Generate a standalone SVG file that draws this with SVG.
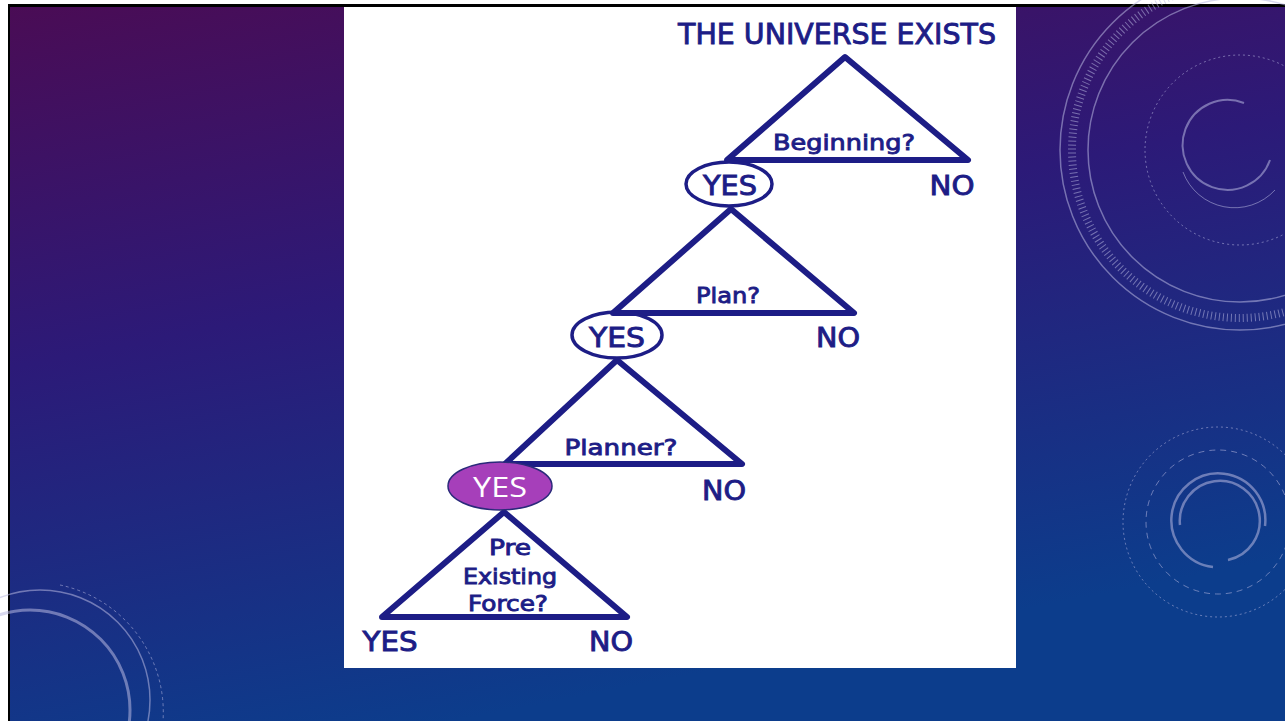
<svg xmlns="http://www.w3.org/2000/svg" width="1285" height="721" viewBox="0 0 1285 721">
<defs>
<linearGradient id="bg" x1="0" y1="0" x2="0.35" y2="1">
<stop offset="0" stop-color="#4a0c55"/>
<stop offset="0.45" stop-color="#2c1a78"/>
<stop offset="1" stop-color="#0c3d8c"/>
</linearGradient>
<style>
.tri{fill:none;stroke:#1d1d86;stroke-width:6;stroke-linejoin:round;stroke-linecap:round}
.lbl{font-family:"DejaVu Sans","Noto Sans",sans-serif;fill:#1d1d86;stroke:#1d1d86;stroke-width:0.9;font-weight:normal}
.oval{fill:none;stroke:#1d1d86;stroke-width:3.5}
.deco{fill:none;stroke:#b8b8e0;stroke-opacity:0.55}
</style>
</defs>
<rect x="0" y="0" width="1285" height="721" fill="#ffffff"/>
<rect x="8" y="4" width="1277" height="717" fill="#000000"/>
<rect x="10" y="7" width="1275" height="714" fill="url(#bg)"/>
<g id="decor">
<circle class="deco" cx="1240" cy="150" r="180" stroke-width="1.5"/>
<circle class="deco" cx="1240" cy="150" r="152" stroke-width="1.5"/>
<circle class="deco" cx="1240" cy="150" r="168" stroke-width="8" stroke-dasharray="1 3" stroke-opacity="0.3"/>
<circle class="deco" cx="1240" cy="150" r="95" stroke-width="1" stroke-dasharray="2 3"/>
<path class="deco" d="M1244 103 A45 45 0 1 0 1270 160" stroke-width="2"/>
<path class="deco" d="M1183 172 A55 55 0 0 0 1275 190" stroke-width="1"/>
<circle class="deco" cx="1218" cy="522" r="95" stroke-width="1" stroke-dasharray="2 3"/>
<circle class="deco" cx="1218" cy="522" r="72" stroke-width="1" stroke-dasharray="6 5"/>
<path class="deco" d="M1180 525 A40 40 0 1 1 1228 560" stroke-width="2.5"/>
<path class="deco" d="M1213 567 A47 47 0 1 1 1265 526" stroke-width="2.5"/>
<circle class="deco" cx="40" cy="700" r="110" stroke-width="1.5"/>
<circle class="deco" cx="30" cy="710" r="100" stroke-width="3"/>
<path class="deco" d="M60 585 A130 130 0 0 1 163 721" stroke-width="1" stroke-dasharray="3 3"/>
</g>
<rect x="344" y="7" width="672" height="661" fill="#ffffff"/>
<text class="lbl" x="837" y="44" font-size="28" text-anchor="middle" textLength="318" lengthAdjust="spacingAndGlyphs">THE UNIVERSE EXISTS</text>
<g id="connectors">
<polygon class="tri" points="845,57 968,160 727,160"/>
<polygon class="tri" points="731,209 854,313 613,313"/>
<polygon class="tri" points="617,360 742,464 505,464"/>
<polygon class="tri" points="504,512 627,617 382,617"/>
</g>
<g id="q1"><text class="lbl" x="844" y="150" font-size="22" text-anchor="middle" textLength="142" lengthAdjust="spacingAndGlyphs">Beginning?</text></g>
<g id="q2"><text class="lbl" x="728" y="303" font-size="22" text-anchor="middle" textLength="64" lengthAdjust="spacingAndGlyphs">Plan?</text></g>
<g id="q3"><text class="lbl" x="621" y="455" font-size="22" text-anchor="middle" textLength="113" lengthAdjust="spacingAndGlyphs">Planner?</text></g>
<g id="q4">
<text class="lbl" x="510" y="555" font-size="21" text-anchor="middle" textLength="42" lengthAdjust="spacingAndGlyphs">Pre</text>
<text class="lbl" x="510" y="584" font-size="21" text-anchor="middle" textLength="94" lengthAdjust="spacingAndGlyphs">Existing</text>
<text class="lbl" x="508" y="611" font-size="21" text-anchor="middle" textLength="80" lengthAdjust="spacingAndGlyphs">Force?</text>
</g>
<g id="yes1"><ellipse class="oval" cx="729" cy="184" rx="43" ry="22"/><text class="lbl" x="730" y="195" font-size="26" text-anchor="middle" textLength="54" lengthAdjust="spacingAndGlyphs">YES</text></g>
<g id="no1"><text class="lbl" x="952" y="195" font-size="26" text-anchor="middle" textLength="45" lengthAdjust="spacingAndGlyphs">NO</text></g>
<g id="yes2"><ellipse class="oval" cx="617" cy="335" rx="45" ry="23"/><text class="lbl" x="617" y="347" font-size="26" text-anchor="middle" textLength="56" lengthAdjust="spacingAndGlyphs">YES</text></g>
<g id="no2"><text class="lbl" x="838" y="347" font-size="26" text-anchor="middle" textLength="44" lengthAdjust="spacingAndGlyphs">NO</text></g>
<g id="yes3"><ellipse cx="500" cy="486" rx="52" ry="24" fill="#a63fba" stroke="#2a2a7a" stroke-width="1.5"/><text x="500" y="497" font-family="Open Sans,Lato,sans-serif" font-size="28" fill="#ffffff" text-anchor="middle" textLength="54" lengthAdjust="spacingAndGlyphs">YES</text></g>
<g id="no3"><text class="lbl" x="724" y="500" font-size="26" text-anchor="middle" textLength="44" lengthAdjust="spacingAndGlyphs">NO</text></g>
<g id="yes4"><text class="lbl" x="390" y="651" font-size="26" text-anchor="middle" textLength="55" lengthAdjust="spacingAndGlyphs">YES</text></g>
<g id="no4"><text class="lbl" x="611" y="651" font-size="26" text-anchor="middle" textLength="44" lengthAdjust="spacingAndGlyphs">NO</text></g>
</svg>
